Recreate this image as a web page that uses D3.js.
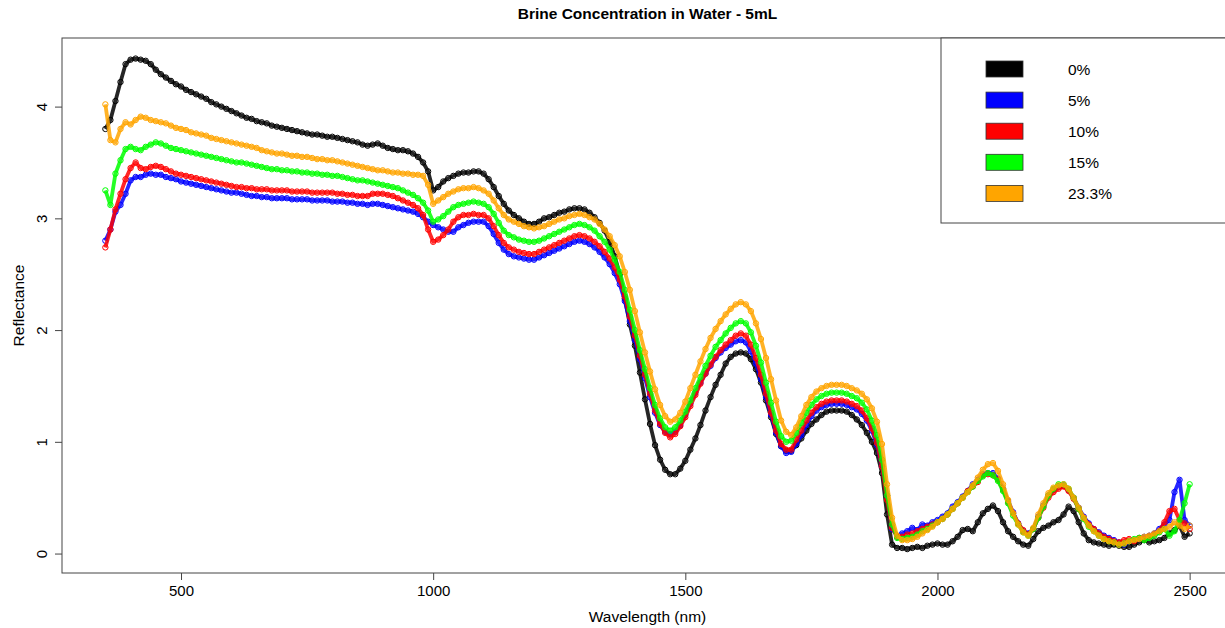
<!DOCTYPE html>
<html>
<head>
<meta charset="utf-8">
<script src="https://cdn.jsdelivr.net/npm/d3@7"></script>
<style>
    body { margin: 0; background: #fff; }
    svg { display: block; font-family: "Liberation Sans", Arial, sans-serif; }
</style>
</head>
<body>
<div id="chart"></div>
<script>
const width = 1225;
const height = 628;

// wavelength grid (nm) the reflectance values were read at
const wavelengths = d3.range(350, 2510, 10);

const labels = ['0%', '5%', '10%', '15%', '23.3%'];
const colors = ['black', 'blue', 'red', '#00ff00', 'orange'];
const xTicks = [500, 1000, 1500, 2000, 2500];
const yTicks = [0, 1, 2, 3, 4];

const brine0 = [
    3.80, 3.88, 4.05, 4.22, 4.38, 4.42, 4.43, 4.42, 4.41, 4.38,
    4.33, 4.29, 4.26, 4.23, 4.20, 4.18, 4.15, 4.13, 4.11, 4.09,
    4.07, 4.04, 4.02, 4.00, 3.98, 3.96, 3.94, 3.92, 3.90, 3.89,
    3.87, 3.86, 3.85, 3.83, 3.82, 3.81, 3.80, 3.79, 3.78, 3.77,
    3.76, 3.75, 3.75, 3.74, 3.73, 3.73, 3.72, 3.71, 3.70, 3.69,
    3.68, 3.66, 3.65, 3.66, 3.67, 3.65, 3.63, 3.62, 3.61, 3.61,
    3.60, 3.58, 3.55, 3.50, 3.42, 3.25, 3.28, 3.33, 3.36, 3.38,
    3.40, 3.41, 3.41, 3.42, 3.42, 3.40, 3.35, 3.28, 3.20, 3.13,
    3.07, 3.03, 3.00, 2.97, 2.95, 2.95, 2.97, 3.00, 3.01, 3.03,
    3.05, 3.06, 3.08, 3.09, 3.09, 3.08, 3.05, 3.01, 2.96, 2.89,
    2.79, 2.66, 2.50, 2.28, 2.05, 1.86, 1.62, 1.38, 1.16, 0.97,
    0.84, 0.75, 0.71, 0.71, 0.76, 0.83, 0.93, 1.03, 1.15, 1.28,
    1.40, 1.51, 1.60, 1.70, 1.76, 1.79, 1.80, 1.79, 1.74, 1.65,
    1.53, 1.37, 1.22, 1.07, 0.96, 0.92, 0.92, 0.97, 1.03, 1.10,
    1.16, 1.20, 1.24, 1.27, 1.28, 1.28, 1.28, 1.27, 1.24, 1.20,
    1.15, 1.08, 1.00, 0.90, 0.72, 0.35, 0.08, 0.05, 0.05, 0.04,
    0.05, 0.06, 0.05, 0.07, 0.08, 0.09, 0.08, 0.08, 0.11, 0.15,
    0.21, 0.22, 0.20, 0.28, 0.36, 0.40, 0.43, 0.38, 0.28, 0.20,
    0.15, 0.11, 0.08, 0.07, 0.13, 0.20, 0.23, 0.25, 0.28, 0.30,
    0.35, 0.42, 0.38, 0.28, 0.18, 0.12, 0.10, 0.09, 0.08, 0.07,
    0.08, 0.07, 0.06, 0.06, 0.08, 0.10, 0.12, 0.10, 0.11, 0.12,
    0.14, 0.18, 0.21, 0.25, 0.15, 0.18
];

const brine5 = [
    2.80, 2.90, 3.06, 3.12, 3.22, 3.34, 3.37, 3.37, 3.39, 3.40,
    3.39, 3.39, 3.37, 3.36, 3.35, 3.33, 3.32, 3.31, 3.30, 3.29,
    3.28, 3.27, 3.26, 3.25, 3.24, 3.23, 3.23, 3.22, 3.21, 3.20,
    3.20, 3.19, 3.19, 3.18, 3.18, 3.18, 3.18, 3.17, 3.17, 3.17,
    3.17, 3.16, 3.16, 3.16, 3.16, 3.15, 3.15, 3.15, 3.14, 3.14,
    3.13, 3.13, 3.12, 3.13, 3.13, 3.12, 3.11, 3.10, 3.09, 3.08,
    3.07, 3.06, 3.04, 3.01, 2.97, 2.94, 2.92, 2.90, 2.88, 2.88,
    2.92, 2.94, 2.96, 2.97, 2.97, 2.97, 2.93, 2.86, 2.78, 2.72,
    2.68, 2.66, 2.65, 2.64, 2.63, 2.63, 2.65, 2.67, 2.69, 2.71,
    2.73, 2.75, 2.77, 2.79, 2.80, 2.79, 2.77, 2.74, 2.70, 2.65,
    2.59, 2.51, 2.41, 2.26, 2.08, 1.91, 1.74, 1.57, 1.40, 1.26,
    1.15, 1.09, 1.07, 1.09, 1.15, 1.24, 1.34, 1.44, 1.53, 1.61,
    1.68, 1.75, 1.80, 1.84, 1.87, 1.90, 1.91, 1.89, 1.81, 1.70,
    1.56, 1.40, 1.24, 1.08, 0.96, 0.90, 0.91, 0.98, 1.06, 1.15,
    1.23, 1.28, 1.31, 1.33, 1.34, 1.34, 1.34, 1.33, 1.31, 1.29,
    1.25, 1.19, 1.10, 0.97, 0.78, 0.52, 0.22, 0.16, 0.18, 0.20,
    0.23, 0.21, 0.26, 0.25, 0.28, 0.30, 0.33, 0.36, 0.42, 0.46,
    0.51, 0.56, 0.62, 0.66, 0.71, 0.72, 0.72, 0.67, 0.58, 0.47,
    0.37, 0.27, 0.20, 0.18, 0.22, 0.33, 0.43, 0.52, 0.57, 0.60,
    0.61, 0.57, 0.50, 0.41, 0.33, 0.27, 0.22, 0.19, 0.16, 0.14,
    0.12, 0.10, 0.08, 0.11, 0.12, 0.13, 0.15, 0.16, 0.18, 0.22,
    0.26, 0.30, 0.55, 0.66, 0.30, 0.25
];

const brine10 = [
    2.74, 2.90, 3.08, 3.22, 3.35, 3.45, 3.50, 3.45, 3.44, 3.46,
    3.47, 3.46, 3.44, 3.42, 3.40, 3.39, 3.38, 3.37, 3.36, 3.35,
    3.34, 3.33, 3.32, 3.31, 3.30, 3.29, 3.28, 3.28, 3.27, 3.27,
    3.26, 3.26, 3.26, 3.25, 3.25, 3.25, 3.25, 3.24, 3.24, 3.24,
    3.24, 3.23, 3.23, 3.23, 3.23, 3.23, 3.22, 3.22, 3.21, 3.21,
    3.20, 3.20, 3.20, 3.22, 3.22, 3.22, 3.21, 3.20, 3.18, 3.16,
    3.14, 3.12, 3.09, 3.03, 2.90, 2.79, 2.81, 2.85, 2.90, 2.97,
    3.01, 3.03, 3.03, 3.04, 3.03, 3.03, 3.00, 2.93, 2.85, 2.78,
    2.74, 2.72, 2.70, 2.69, 2.68, 2.68, 2.70, 2.72, 2.74, 2.76,
    2.78, 2.80, 2.82, 2.84, 2.85, 2.84, 2.82, 2.79, 2.75, 2.70,
    2.64, 2.56, 2.45, 2.30, 2.12, 1.95, 1.77, 1.60, 1.43, 1.28,
    1.16, 1.08, 1.04, 1.07, 1.14, 1.22, 1.32, 1.42, 1.52, 1.61,
    1.69, 1.76, 1.82, 1.87, 1.91, 1.95, 1.97, 1.95, 1.87, 1.75,
    1.60, 1.43, 1.26, 1.10, 0.98, 0.93, 0.93, 1.02, 1.10, 1.19,
    1.26, 1.31, 1.34, 1.36, 1.37, 1.37, 1.37, 1.36, 1.34, 1.32,
    1.28, 1.21, 1.12, 0.99, 0.78, 0.48, 0.23, 0.15, 0.15, 0.17,
    0.18, 0.20, 0.22, 0.24, 0.26, 0.28, 0.31, 0.35, 0.40, 0.45,
    0.50, 0.56, 0.60, 0.64, 0.70, 0.71, 0.70, 0.66, 0.57, 0.46,
    0.36, 0.27, 0.21, 0.17, 0.22, 0.32, 0.41, 0.50, 0.55, 0.58,
    0.60, 0.56, 0.49, 0.40, 0.32, 0.26, 0.22, 0.18, 0.15, 0.13,
    0.11, 0.10, 0.12, 0.13, 0.11, 0.14, 0.13, 0.15, 0.17, 0.20,
    0.28, 0.38, 0.40, 0.30, 0.27, 0.22
];

const brine15 = [
    3.25, 3.12, 3.40, 3.52, 3.62, 3.64, 3.62, 3.61, 3.64, 3.66,
    3.68, 3.67, 3.65, 3.63, 3.62, 3.61, 3.60, 3.59, 3.58, 3.57,
    3.56, 3.55, 3.54, 3.53, 3.52, 3.51, 3.50, 3.50, 3.49, 3.48,
    3.47, 3.46, 3.45, 3.44, 3.44, 3.43, 3.43, 3.42, 3.42, 3.41,
    3.41, 3.40, 3.40, 3.39, 3.39, 3.38, 3.38, 3.37, 3.36, 3.35,
    3.34, 3.34, 3.33, 3.32, 3.31, 3.30, 3.29, 3.28, 3.27, 3.25,
    3.23, 3.21, 3.18, 3.14, 3.07, 2.97, 2.99, 3.02, 3.06, 3.10,
    3.12, 3.13, 3.14, 3.15, 3.14, 3.13, 3.10, 3.04, 2.96, 2.89,
    2.85, 2.83, 2.81, 2.80, 2.79, 2.79, 2.80, 2.82, 2.84, 2.86,
    2.88, 2.90, 2.92, 2.94, 2.95, 2.94, 2.92, 2.89, 2.84, 2.79,
    2.72, 2.63, 2.52, 2.36, 2.18, 2.00, 1.82, 1.65, 1.48, 1.33,
    1.21, 1.13, 1.10, 1.13, 1.19, 1.27, 1.37, 1.48, 1.58, 1.68,
    1.77, 1.85, 1.91, 1.97, 2.02, 2.06, 2.08, 2.06, 1.98, 1.86,
    1.71, 1.53, 1.35, 1.18, 1.05, 1.00, 1.01, 1.08, 1.17, 1.26,
    1.33, 1.38, 1.41, 1.43, 1.44, 1.44, 1.44, 1.43, 1.41, 1.39,
    1.35, 1.29, 1.19, 1.06, 0.84, 0.52, 0.26, 0.14, 0.13, 0.14,
    0.15, 0.17, 0.20, 0.22, 0.25, 0.28, 0.31, 0.35, 0.40, 0.45,
    0.50, 0.55, 0.60, 0.65, 0.69, 0.72, 0.70, 0.65, 0.56, 0.45,
    0.34, 0.26, 0.19, 0.16, 0.22, 0.32, 0.42, 0.52, 0.58, 0.62,
    0.62, 0.58, 0.50, 0.40, 0.31, 0.24, 0.20, 0.16, 0.13, 0.11,
    0.10, 0.08, 0.09, 0.11, 0.13, 0.14, 0.12, 0.14, 0.16, 0.19,
    0.22, 0.16, 0.20, 0.30, 0.45, 0.62
];

const brine23 = [
    4.02, 3.70, 3.68, 3.80, 3.86, 3.84, 3.88, 3.91, 3.90, 3.88,
    3.87, 3.86, 3.85, 3.83, 3.81, 3.80, 3.79, 3.77, 3.76, 3.75,
    3.74, 3.72, 3.71, 3.70, 3.69, 3.68, 3.67, 3.66, 3.65, 3.64,
    3.63, 3.61, 3.60, 3.59, 3.58, 3.58, 3.57, 3.56, 3.56, 3.55,
    3.55, 3.54, 3.53, 3.53, 3.52, 3.52, 3.51, 3.50, 3.49, 3.48,
    3.47, 3.46, 3.45, 3.44, 3.43, 3.43, 3.42, 3.41, 3.41, 3.40,
    3.40, 3.39, 3.39, 3.38, 3.30, 3.13, 3.16, 3.19, 3.22, 3.24,
    3.26, 3.27, 3.27, 3.28, 3.27, 3.25, 3.22, 3.16, 3.09, 3.03,
    2.99, 2.97, 2.95, 2.93, 2.92, 2.91, 2.92, 2.93, 2.95, 2.97,
    2.99, 3.00, 3.02, 3.03, 3.04, 3.03, 3.01, 2.99, 2.95, 2.90,
    2.84, 2.76, 2.66, 2.52, 2.36, 2.17, 1.98, 1.80, 1.63, 1.47,
    1.33, 1.23, 1.18, 1.20, 1.26, 1.36, 1.48, 1.60, 1.72, 1.83,
    1.93, 2.01, 2.08, 2.14, 2.19, 2.23, 2.25, 2.23, 2.17, 2.06,
    1.92, 1.75, 1.56, 1.37, 1.19, 1.09, 1.06, 1.13, 1.23, 1.33,
    1.40, 1.45, 1.48, 1.50, 1.51, 1.51, 1.51, 1.50, 1.48, 1.46,
    1.43, 1.38, 1.30, 1.18, 0.98, 0.62, 0.32, 0.16, 0.12, 0.12,
    0.13, 0.15, 0.18, 0.21, 0.24, 0.28, 0.31, 0.35, 0.40, 0.45,
    0.50, 0.55, 0.61, 0.68, 0.75, 0.80, 0.81, 0.74, 0.62, 0.48,
    0.36, 0.26, 0.19, 0.16, 0.23, 0.35, 0.45, 0.54, 0.59, 0.61,
    0.62, 0.58, 0.50, 0.41, 0.32, 0.25, 0.20, 0.16, 0.13, 0.11,
    0.10, 0.08, 0.09, 0.11, 0.12, 0.13, 0.15, 0.16, 0.18, 0.20,
    0.22, 0.24, 0.28, 0.25, 0.22, 0.25
];

const seriesValues = [brine0, brine5, brine10, brine15, brine23];

const series = seriesValues.map((values, i) => ({
    label: labels[i],
    color: colors[i],
    points: values.map((v, j) => ({ wl: wavelengths[j], r: v }))
}));

// plot frame, R style with 4% padding on both axes
const plotLeft = 62, plotRight = 1233, plotTop = 38, plotBottom = 573;

const x = d3.scaleLinear().domain([264, 2586]).range([plotLeft, plotRight]);
const y = d3.scaleLinear().domain([-0.174, 4.614]).range([plotBottom, plotTop]);

const svg = d3.select('#chart').append('svg')
    .attr('width', width)
    .attr('height', height);

svg.append('rect')
    .attr('width', width)
    .attr('height', height)
    .attr('fill', '#fff');

const plot = svg.append('g');

const line = d3.line()
    .x(d => x(d.wl))
    .y(d => y(d.r));

// each spectrum: a band of open circles, like R's type = "p" at 1 nm steps
series.forEach(s => {
    const g = plot.append('g');
    g.append('path')
        .datum(s.points)
        .attr('d', line)
        .attr('fill', 'none')
        .attr('stroke', s.color)
        .attr('stroke-width', 3.8)
        .attr('stroke-linejoin', 'round')
        .attr('stroke-opacity', 0.85);
    g.selectAll('circle')
        .data(s.points)
        .enter().append('circle')
        .attr('cx', d => x(d.wl))
        .attr('cy', d => y(d.r))
        .attr('r', 2.7)
        .attr('fill', 'none')
        .attr('stroke', s.color)
        .attr('stroke-width', 1);
});

const tickFont = '15px';
const labelFont = '15.5px';

// axes
const xAxis = svg.append('g')
    .attr('transform', `translate(0, ${plotBottom})`)
    .call(d3.axisBottom(x).tickValues(xTicks).tickSize(7).tickPadding(5).tickFormat(d3.format('d')));
xAxis.select('.domain').remove();
xAxis.selectAll('line').attr('stroke', '#444');
xAxis.selectAll('text')
    .attr('font-size', tickFont)
    .attr('font-family', '"Liberation Sans", Arial, sans-serif')
    .attr('fill', '#000');

const yAxis = svg.append('g')
    .attr('transform', `translate(${plotLeft}, 0)`)
    .call(d3.axisLeft(y).tickValues(yTicks).tickSize(7).tickFormat(d3.format('d')));
yAxis.select('.domain').remove();
yAxis.selectAll('line').attr('stroke', '#444');
yAxis.selectAll('text')
    .attr('font-size', tickFont)
    .attr('font-family', '"Liberation Sans", Arial, sans-serif')
    .attr('fill', '#000')
    .attr('text-anchor', 'middle')
    .attr('dy', null)
    .attr('x', null)
    .attr('transform', 'translate(-15, 0) rotate(-90)');

// box around plot
svg.append('rect')
    .attr('x', plotLeft)
    .attr('y', plotTop)
    .attr('width', plotRight - plotLeft)
    .attr('height', plotBottom - plotTop)
    .attr('fill', 'none')
    .attr('stroke', '#444')
    .attr('stroke-width', 1);

// titles
svg.append('text')
    .attr('x', (plotLeft + plotRight) / 2)
    .attr('y', 19)
    .attr('text-anchor', 'middle')
    .attr('font-size', labelFont)
    .attr('font-weight', 'bold')
    .text('Brine Concentration in Water - 5mL');

svg.append('text')
    .attr('x', (plotLeft + plotRight) / 2)
    .attr('y', 622)
    .attr('text-anchor', 'middle')
    .attr('font-size', labelFont)
    .text('Wavelength (nm)');

svg.append('text')
    .attr('transform', `translate(24, ${(plotTop + plotBottom) / 2}) rotate(-90)`)
    .attr('text-anchor', 'middle')
    .attr('font-size', labelFont)
    .text('Reflectance');

// legend
const legend = svg.append('g');
legend.append('rect')
    .attr('x', 941)
    .attr('y', plotTop)
    .attr('width', 400)
    .attr('height', 223 - plotTop)
    .attr('fill', '#fff')
    .attr('stroke', '#444');

const rows = legend.selectAll('.row')
    .data(series)
    .enter().append('g')
    .attr('class', 'row')
    .attr('transform', (d, i) => `translate(0, ${69 + i * 31.1})`);
rows.append('rect')
    .attr('x', 986)
    .attr('y', -8)
    .attr('width', 37)
    .attr('height', 16)
    .attr('fill', d => d.color)
    .attr('stroke', '#333')
    .attr('stroke-width', 0.8);
rows.append('text')
    .attr('x', 1068)
    .attr('y', 6)
    .attr('font-size', labelFont)
    .text(d => d.label);
</script>
</body>
</html>
